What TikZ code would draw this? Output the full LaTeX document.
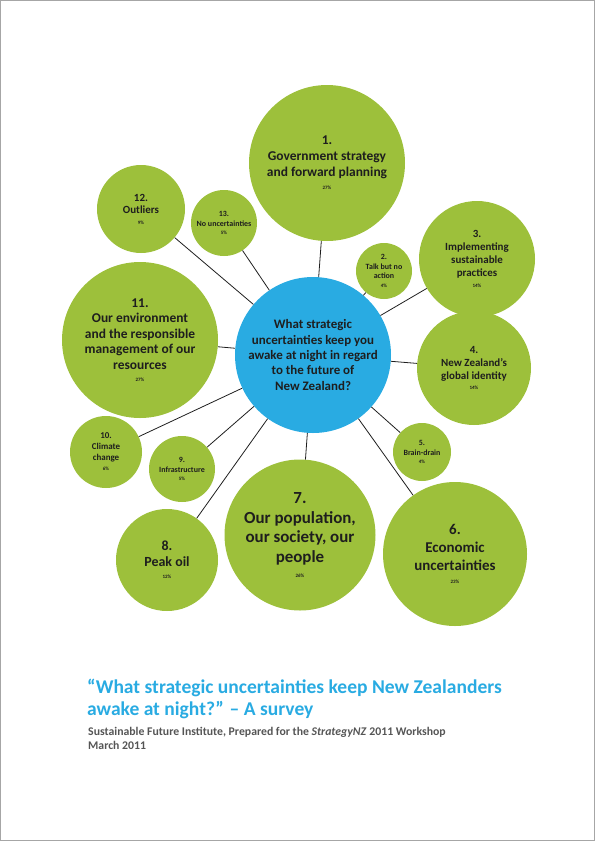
\documentclass[tikz,border=0pt]{standalone}
\usepackage{fontspec}
\setmainfont{Carlito}
\usepackage{tikz}

\definecolor{leaf}{HTML}{9DC03B}
\definecolor{sky}{HTML}{29ABE2}
\definecolor{ink}{HTML}{1E1E1E}
\definecolor{slate}{HTML}{555555}

\tikzset{
  bubble/.style={circle, fill=leaf, draw=none, align=center, inner sep=0pt,
                 text=ink, font=\bfseries},
  hub/.style={bubble, fill=sky},
  link/.style={draw=ink, line width=0.8pt}
}
\newcommand{\pc}[1]{{\fontsize{5}{6}\selectfont #1\%}}

\begin{document}
\begin{tikzpicture}[x=1bp, y=-1bp]
\useasboundingbox (0,0) rectangle (595,841);
\draw[gray!70, line width=1.5bp] (0,0) rectangle (595,841);

\node[hub, minimum size=156bp,
      font=\bfseries\fontsize{13}{15.5}\selectfont] (q) at (313,355)
  {What strategic\\ uncertainties keep you\\ awake at night in regard\\ to the future of\\ New Zealand?};

\node[bubble, minimum size=156bp, font=\bfseries\fontsize{13.5}{16}\selectfont] (gov) at (327,163)
  {1.\\ Government strategy\\ and forward planning\\[-3pt] \pc{27}};
\node[bubble, minimum size=56bp, font=\bfseries\fontsize{8}{9.5}\selectfont] (talk) at (384,271)
  {2.\\ Talk but no\\ action\\[-1pt] \pc{4}};
\node[bubble, minimum size=116bp, font=\bfseries\fontsize{11}{13}\selectfont] (prac) at (477,259)
  {3.\\ Implementing\\ sustainable\\ practices\\[-2pt] \pc{14}};
\node[bubble, minimum size=114bp, font=\bfseries\fontsize{11}{13}\selectfont] (iden) at (474,368)
  {4.\\ New Zealand's\\ global identity\\[-2pt] \pc{14}};
\node[bubble, minimum size=58bp, font=\bfseries\fontsize{8}{9.5}\selectfont] (brain) at (422,452)
  {5.\\ Brain-drain\\[-1pt] \pc{4}};
\node[bubble, minimum size=144bp, font=\bfseries\fontsize{15}{18}\selectfont] (econ) at (455,554)
  {6.\\ Economic\\ uncertainties\\[-4pt] \pc{23}};
\node[bubble, minimum size=151bp, font=\bfseries\fontsize{17}{20}\selectfont] (pop) at (300,535)
  {7.\\ Our population,\\ our society, our\\ people\\[-5pt] \pc{26}};
\node[bubble, minimum size=102bp, font=\bfseries\fontsize{14}{16}\selectfont] (oil) at (167,560)
  {8.\\ Peak oil\\[-4pt] \pc{12}};
\node[bubble, minimum size=66bp, font=\bfseries\fontsize{8}{9.5}\selectfont] (infra) at (182,469)
  {9.\\ Infrastructure\\[-1pt] \pc{5}};
\node[bubble, minimum size=72bp, font=\bfseries\fontsize{9}{11}\selectfont] (clim) at (106,452)
  {10.\\ Climate\\ change\\[-1pt] \pc{6}};
\node[bubble, minimum size=156bp, font=\bfseries\fontsize{13.5}{15.5}\selectfont] (env) at (140,340)
  {11.\\ Our environment\\ and the responsible\\ management of our\\ resources\\[-3pt] \pc{27}};
\node[bubble, minimum size=88bp, font=\bfseries\fontsize{11}{12.5}\selectfont] (out) at (141,209)
  {12.\\ Outliers\\[-2pt] \pc{9}};
\node[bubble, minimum size=66bp, font=\bfseries\fontsize{8}{9.5}\selectfont] (none) at (224,223)
  {13.\\ No uncertainties\\[-1pt] \pc{5}};

\foreach \n in {gov,talk,prac,iden,brain,econ,pop,oil,infra,clim,env,out,none}
  \draw[link] (q) -- (\n);

\node[anchor=base west, align=left, text=sky, inner sep=0pt,
      font=\bfseries\fontsize{19.6}{22}\selectfont] (title) at (87,715)
  {“What strategic uncertainties keep New Zealanders\\ awake at night?” – A survey};
\node[anchor=base west, align=left, text=slate, inner sep=0pt,
      font=\bfseries\fontsize{11.8}{14}\selectfont] (sub) at (88,749)
  {Sustainable Future Institute, Prepared for the \textit{StrategyNZ} 2011 Workshop\\ March 2011};
\end{tikzpicture}
\end{document}
